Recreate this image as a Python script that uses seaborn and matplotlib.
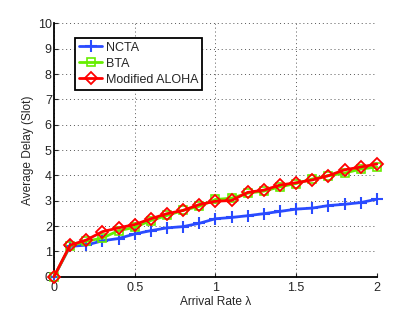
import matplotlib
matplotlib.use("Agg")
import matplotlib.pyplot as plt
import seaborn as sns
import numpy as np
import pandas as pd

x = [0.0, 0.1, 0.2, 0.3, 0.4, 0.5, 0.6, 0.7, 0.8, 0.9, 1.0,
     1.1, 1.2, 1.3, 1.4, 1.5, 1.6, 1.7, 1.8, 1.9, 2.0]
ncta = [0.0, 1.20, 1.25, 1.42, 1.51, 1.69, 1.82, 1.93, 1.98, 2.11, 2.29,
        2.34, 2.41, 2.49, 2.58, 2.67, 2.71, 2.81, 2.86, 2.93, 3.06]
bta = [0.0, 1.22, 1.40, 1.53, 1.82, 1.95, 2.22, 2.42, 2.62, 2.78, 3.05,
       3.10, 3.30, 3.38, 3.55, 3.68, 3.86, 3.99, 4.09, 4.25, 4.33]
aloha = [0.0, 1.25, 1.45, 1.78, 1.93, 2.06, 2.29, 2.49, 2.62, 2.85, 2.98,
         3.01, 3.33, 3.42, 3.62, 3.71, 3.82, 3.99, 4.22, 4.33, 4.45]
labels = ["NCTA", "BTA", "Modified ALOHA"]
xticks = [0, 0.5, 1, 1.5, 2]
xticklabels = ["0", "0.5", "1", "1.5", "2"]
yticks = list(range(0, 11))

sns.set_style("ticks")
plt.rcParams['font.family'] = ['Liberation Sans', 'DejaVu Sans']

fig = plt.figure(figsize=(4.15, 3.11), dpi=100)
ax = fig.add_axes([0.13, 0.11, 0.778, 0.815])

styles = [
    dict(color="#2a4bff", marker="+", markersize=8, markeredgewidth=1.5),
    dict(color="#66ee00", marker="s", markersize=6, markeredgewidth=1.2),
    dict(color="#ff0000", marker="D", markersize=6.5, markeredgewidth=1.3),
]
for yv, lab, st in zip([ncta, bta, aloha], labels, styles):
    df = pd.DataFrame({"x": x, "y": yv})
    sns.lineplot(data=df, x="x", y="y", ax=ax, label=lab, linewidth=2,
                 color=st["color"], marker=st["marker"], markersize=st["markersize"],
                 markeredgewidth=st["markeredgewidth"], markerfacecolor="none",
                 markeredgecolor=st["color"], clip_on=False, zorder=3)

ax.set_xlim(0, 2)
ax.set_ylim(0, 10)
ax.set_xticks(xticks)
ax.set_xticklabels(xticklabels)
ax.set_yticks(yticks)
ax.grid(True, linestyle=(0, (1, 3)), color="#555555", linewidth=0.7)
ax.tick_params(direction="in", top=False, right=False, labelsize=9, length=3, width=0.8)
ax.tick_params(axis="y", pad=1.5)
ax.tick_params(axis="x", pad=4)
for side in ["top", "right"]:
    ax.spines[side].set_visible(False)
for side in ["left", "bottom"]:
    ax.spines[side].set_linewidth(1.3)
    ax.spines[side].set_color("black")
ax.set_xlabel("Arrival Rate λ", fontsize=8.6, labelpad=1)
ax.set_ylabel("Average Delay (Slot)", fontsize=8.6, labelpad=3)

leg = ax.legend(loc="upper left", bbox_to_anchor=(0.065, 0.943), fontsize=9, frameon=True,
                fancybox=False, handlelength=1.9, borderpad=0.3, labelspacing=0.33,
                handletextpad=0.25, borderaxespad=0)
leg.get_frame().set_edgecolor("black")
leg.get_frame().set_linewidth(1.3)
leg.get_frame().set_alpha(1)

fig.savefig("out.png", dpi=100)
